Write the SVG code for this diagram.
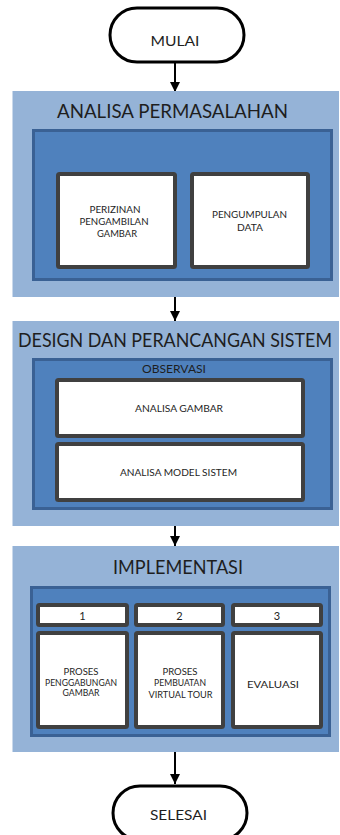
<svg xmlns="http://www.w3.org/2000/svg" width="340" height="835" viewBox="0 0 340 835">
<style>
  text { font-family: Lato, "Liberation Sans", sans-serif; fill: #1e1e1e; text-anchor: middle; }
  .panel { fill: #95b3d7; }
  .inner { fill: #4f81bd; stroke: #3a6194; stroke-width: 3; }
  .box { fill: #ffffff; stroke: #404040; stroke-width: 4; }
  .term { fill: #ffffff; stroke: #000000; stroke-width: 3; }
  .title { font-size: 20px; }
  .small { font-size: 8.5px; }
  .mid { font-size: 9.5px; }
  .conn { stroke: #000; stroke-width: 2; fill: none; }
</style>
<defs>
  <marker id="arr" viewBox="0 0 10 10" refX="10" refY="5" markerWidth="5" markerHeight="5" orient="auto" markerUnits="strokeWidth">
    <path d="M0,0 L10,5 L0,10 Z" fill="#000"/>
  </marker>
</defs>

<g id="connectors">
  <line class="conn" x1="175" y1="63" x2="175" y2="92" marker-end="url(#arr)"/>
  <line class="conn" x1="175" y1="297" x2="175" y2="321" marker-end="url(#arr)"/>
  <line class="conn" x1="175" y1="526" x2="175" y2="546" marker-end="url(#arr)"/>
  <line class="conn" x1="175" y1="752" x2="175" y2="784" marker-end="url(#arr)"/>
</g>

<g id="mulai">
  <rect class="term" x="110" y="8" width="134" height="54" rx="27" ry="27"/>
  <text x="175" y="46" font-size="14" textLength="49" lengthAdjust="spacingAndGlyphs">MULAI</text>
</g>

<g id="analisa-permasalahan">
  <rect class="panel" x="12.5" y="91" width="326.5" height="206"/>
  <text class="title" x="172.5" y="118" textLength="231" lengthAdjust="spacingAndGlyphs">ANALISA PERMASALAHAN</text>
  <rect class="inner" x="33.5" y="130.5" width="298" height="149"/>
</g>
<g id="perizinan">
  <rect class="box" x="58" y="174" width="117" height="93" rx="1.5"/>
  <text class="small" x="115" y="213" textLength="51" lengthAdjust="spacingAndGlyphs">PERIZINAN</text>
  <text class="small" x="114" y="225" textLength="69" lengthAdjust="spacingAndGlyphs">PENGAMBILAN</text>
  <text class="small" x="117" y="237" textLength="40" lengthAdjust="spacingAndGlyphs">GAMBAR</text>
</g>
<g id="pengumpulan">
  <rect class="box" x="192" y="174" width="116" height="93" rx="1.5"/>
  <text class="small" x="249.5" y="218" textLength="75" lengthAdjust="spacingAndGlyphs">PENGUMPULAN</text>
  <text class="small" x="250" y="231" textLength="26" lengthAdjust="spacingAndGlyphs">DATA</text>
</g>

<g id="design">
  <rect class="panel" x="12.5" y="321" width="326.5" height="205"/>
  <text class="title" x="175" y="347" font-size="17.5" textLength="314" lengthAdjust="spacingAndGlyphs">DESIGN DAN PERANCANGAN SISTEM</text>
  <rect class="inner" x="33.5" y="359.5" width="298" height="149"/>
  <text x="174" y="373" font-size="12" textLength="64" lengthAdjust="spacingAndGlyphs">OBSERVASI</text>
</g>
<g id="analisa-gambar">
  <rect class="box" x="57" y="380" width="246" height="56" rx="1.5"/>
  <text class="mid" x="179" y="412" textLength="88" lengthAdjust="spacingAndGlyphs">ANALISA GAMBAR</text>
</g>
<g id="analisa-model">
  <rect class="box" x="57" y="444" width="246" height="56" rx="1.5"/>
  <text class="mid" x="178.5" y="476" textLength="117" lengthAdjust="spacingAndGlyphs">ANALISA MODEL SISTEM</text>
</g>

<g id="implementasi">
  <rect class="panel" x="12.5" y="546" width="326.5" height="206"/>
  <text class="title" x="178" y="574" font-size="21" textLength="130" lengthAdjust="spacingAndGlyphs">IMPLEMENTASI</text>
  <rect class="inner" x="31.5" y="587.5" width="298" height="148"/>
</g>
<g id="n1">
  <rect class="box" x="38" y="605" width="89" height="20" rx="1.5"/>
  <text x="82.5" y="620" font-size="11">1</text>
</g>
<g id="n2">
  <rect class="box" x="136" y="605" width="87" height="20" rx="1.5"/>
  <text x="179.5" y="620" font-size="11">2</text>
</g>
<g id="n3">
  <rect class="box" x="233" y="605" width="88" height="20" rx="1.5"/>
  <text x="277" y="620" font-size="11">3</text>
</g>
<g id="penggabungan">
  <rect class="box" x="38" y="633" width="89" height="94" rx="1.5"/>
  <text class="small" x="81" y="675" textLength="35" lengthAdjust="spacingAndGlyphs">PROSES</text>
  <text class="small" x="81" y="686" textLength="72" lengthAdjust="spacingAndGlyphs">PENGGABUNGAN</text>
  <text class="small" x="81" y="696" textLength="37" lengthAdjust="spacingAndGlyphs">GAMBAR</text>
</g>
<g id="pembuatan">
  <rect class="box" x="136" y="633" width="87" height="94" rx="1.5"/>
  <text class="small" x="180" y="675" textLength="35" lengthAdjust="spacingAndGlyphs">PROSES</text>
  <text class="small" x="180" y="686" textLength="52" lengthAdjust="spacingAndGlyphs">PEMBUATAN</text>
  <text class="small" x="180.5" y="698" textLength="64" lengthAdjust="spacingAndGlyphs">VIRTUAL TOUR</text>
</g>
<g id="evaluasi">
  <rect class="box" x="233" y="633" width="88" height="94" rx="1.5"/>
  <text class="small" x="273" y="688" textLength="52" lengthAdjust="spacingAndGlyphs">EVALUASI</text>
</g>

<g id="selesai">
  <rect class="term" x="113" y="786" width="134" height="54" rx="27" ry="27"/>
  <text x="178.5" y="820" font-size="14" textLength="57" lengthAdjust="spacingAndGlyphs">SELESAI</text>
</g>
</svg>
